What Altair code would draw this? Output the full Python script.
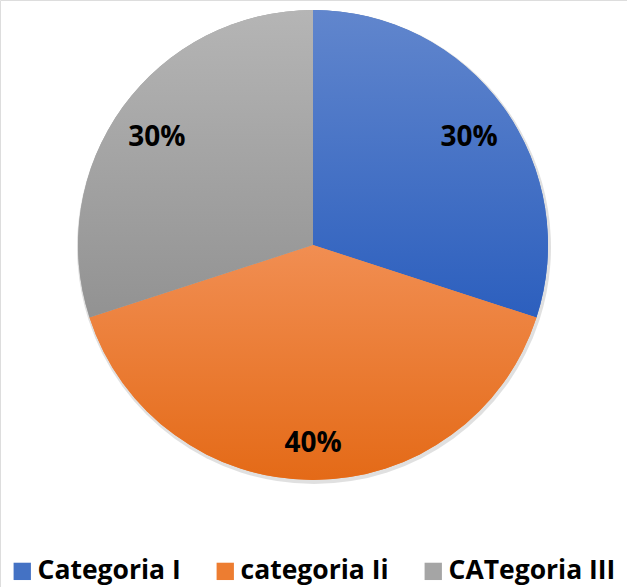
import altair as alt
import pandas as pd

categories = ["Categoria I", "categoria Ii", "CATegoria III"]
values = [30, 40, 30]
labels = ["30%", "40%", "30%"]
flat_colors = ["#4472C4", "#ED7D31", "#A5A5A5"]
grad_top = ["#6186CD", "#F18E52", "#B5B5B5"]
grad_bot = ["#2C5FBE", "#E46A17", "#929292"]

df = pd.DataFrame({
    "category": categories,
    "value": values,
    "label": labels,
    "order": list(range(len(categories))),
})

CX, CY, R = 313, 245, 235
FONT = "Open Sans"

base = (
    alt.Chart(df)
    .transform_window(cum="sum(value)", sort=[alt.SortField("order")], frame=[None, 0])
    .transform_calculate(start="datum.cum - datum.value", mid="datum.cum - datum.value/2")
)

theta_scale = alt.Scale(domain=[0, 100])

shadow_layer = base.mark_arc(outerRadius=R + 2, fill="#000000", opacity=0.12).encode(
    theta=alt.Theta("start:Q", scale=theta_scale),
    theta2="cum:Q",
    x=alt.value(CX + 1),
    y=alt.value(CY + 2),
)

legend_layer = base.mark_arc(outerRadius=R).encode(
    theta=alt.Theta("start:Q", scale=theta_scale),
    theta2="cum:Q",
    x=alt.value(CX),
    y=alt.value(CY),
    color=alt.Color(
        "category:N",
        sort=categories,
        scale=alt.Scale(domain=categories, range=flat_colors),
        legend=alt.Legend(
            title=None,
            orient="none",
            direction="horizontal",
            legendX=9,
            legendY=558,
            symbolType="square",
            symbolSize=300,
            symbolStrokeWidth=0,
            labelFont=FONT,
            labelFontSize=26.5,
            labelFontWeight="bold",
            labelColor="#000000",
            labelOffset=2,
            columnPadding=31,
            padding=0,
            labelLimit=300,
        ),
    ),
)

layers = [shadow_layer, legend_layer]
for i, c in enumerate(categories):
    grad = alt.Gradient(
        gradient="linear",
        x1=0, x2=0, y1=0, y2=1,
        stops=[
            alt.GradientStop(color=grad_top[i], offset=0),
            alt.GradientStop(color=grad_bot[i], offset=1),
        ],
    )
    layers.append(
        base.transform_filter(alt.datum.category == c)
        .mark_arc(outerRadius=R, fill=grad)
        .encode(
            theta=alt.Theta("start:Q", scale=theta_scale),
            theta2="cum:Q",
            x=alt.value(CX),
            y=alt.value(CY),
        )
    )

text_layer = base.mark_text(
    radius=193, dy=6, font=FONT, fontSize=28, fontWeight="bold", color="#000000"
).encode(
    theta=alt.Theta("mid:Q", scale=theta_scale),
    x=alt.value(CX),
    y=alt.value(CY),
    text="label:N",
)
layers.append(text_layer)

chart = (
    alt.layer(*layers)
    .properties(width=627, height=587, padding=0, autosize=alt.AutoSizeParams(type="none"))
    .configure_view(stroke=None)
    .configure(background="#ffffff")
)

chart.save("out.html", embed_options={"renderer": "svg", "actions": False})
